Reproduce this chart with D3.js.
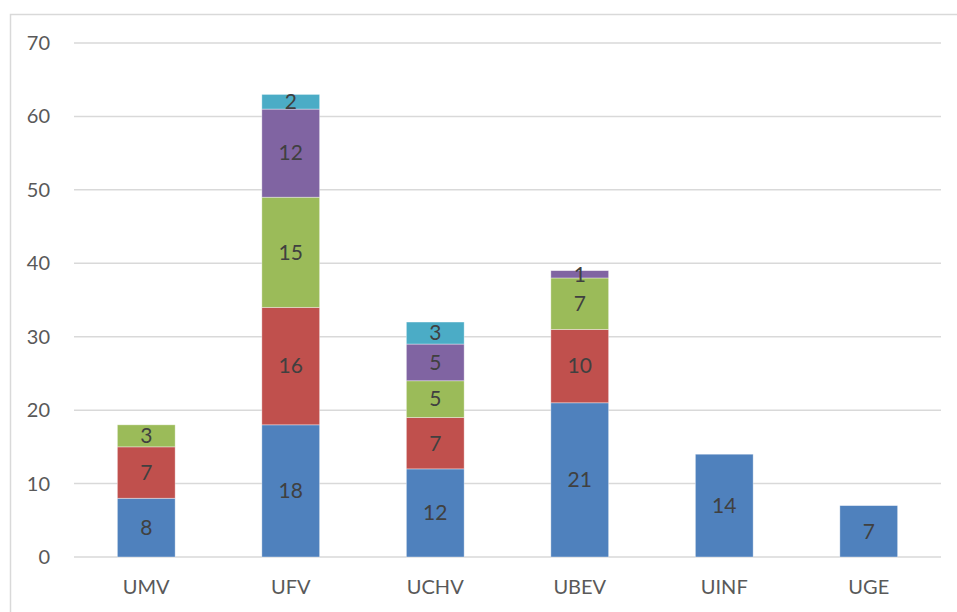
<!DOCTYPE html>
<html lang="en">
<head>
    <meta charset="UTF-8">
    <title>Stacked bars</title>
    <script src="https://cdn.jsdelivr.net/npm/d3@7"></script>
    <style>
        body{margin:0;background:#fff}
        text{font-family:Lato,"Open Sans",sans-serif}
    </style>
</head>
<body>
<svg width="957" height="612"></svg>
<script>
    const categories = ["UMV","UFV","UCHV","UBEV","UINF","UGE"]
    const seriesNames = ["s1","s2","s3","s4","s5"]
    const s1 = [8,18,12,21,14,7]
    const s2 = [7,16,7,10,0,0]
    const s3 = [3,15,5,7,0,0]
    const s4 = [0,12,5,1,0,0]
    const s5 = [0,2,3,0,0,0]
    const colors = ["#4F81BD","#C0504D","#9BBB59","#8064A2","#4BACC6"]
    const yTicks = [0,10,20,30,40,50,60,70]

    const seriesVals = [s1,s2,s3,s4,s5]
    const rows = categories.map((c,i)=>{
        const r = {cat:c}
        seriesNames.forEach((s,k)=> r[s]=seriesVals[k][i])
        return r
    })

    const svg = d3.select("svg")
    const plotL = 74, plotR = 941, plotT = 43, plotB = 557

    // chart frame
    svg.append("rect")
        .attr("x",10.5).attr("y",14.5)
        .attr("width",960).attr("height",620)
        .attr("fill","none").attr("stroke","#d9d9d9").attr("stroke-width",1.5)

    const x = d3.scaleBand().domain(categories).range([plotL,plotR]).paddingInner(0.6).paddingOuter(0.3)
    const y = d3.scaleLinear().domain([0,70]).range([plotB,plotT])

    svg.append("g").selectAll("line")
        .data(yTicks)
        .join("line")
        .attr("x1",plotL).attr("x2",plotR)
        .attr("y1",d=>y(d)).attr("y2",d=>y(d))
        .attr("stroke","#d9d9d9").attr("stroke-width",1.5)

    svg.append("g").selectAll("text")
        .data(yTicks)
        .join("text")
        .attr("x",50).attr("y",d=>y(d))
        .attr("dy","0.35em")
        .attr("text-anchor","end")
        .attr("font-size",20)
        .attr("fill","#595959")
        .text(d=>d)

    const stack = d3.stack().keys(seriesNames)(rows)

    const layers = svg.append("g").selectAll("g")
        .data(stack)
        .join("g")
        .attr("fill",(d,i)=>colors[i])

    layers.selectAll("rect")
        .data(d=>d.filter(p=>p[1]-p[0]>0))
        .join("rect")
        .attr("x",d=>x(d.data.cat))
        .attr("width",x.bandwidth())
        .attr("y",d=>y(d[1]))
        .attr("height",d=>y(d[0])-y(d[1]))
        .attr("stroke","#ffffff").attr("stroke-opacity",0.5).attr("stroke-width",0.75)

    layers.selectAll("text")
        .data(d=>d.filter(p=>p[1]-p[0]>0))
        .join("text")
        .attr("x",d=>x(d.data.cat)+x.bandwidth()/2)
        .attr("y",d=>(y(d[0])+y(d[1]))/2)
        .attr("dy","0.35em")
        .attr("text-anchor","middle")
        .attr("font-size",21)
        .attr("fill","#404040")
        .text(d=>d[1]-d[0])

    svg.append("g").selectAll("text")
        .data(categories)
        .join("text")
        .attr("x",d=>x(d)+x.bandwidth()/2)
        .attr("y",587)
        .attr("dy","0.35em")
        .attr("text-anchor","middle")
        .attr("font-size",20)
        .attr("fill","#595959")
        .text(d=>d)
</script>
</body>
</html>
